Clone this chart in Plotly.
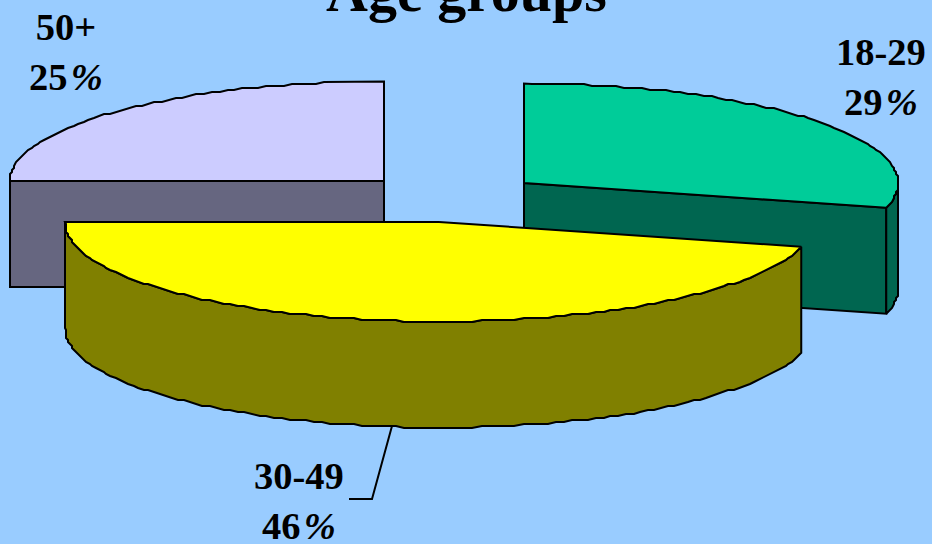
import math
import plotly.graph_objects as go

# Data
categories = ["18-29", "30-49", "50+"]
values = [29, 46, 25]
title_text = "Age groups"

# Style / layout
top_colors = ["#00CC99", "#FFFF00", "#CCCCFF"]
side_colors = ["#006650", "#808000", "#666680"]
apexes = [(524, 183), (439, 222), (384, 181)]   # exploded slice apex positions
draw_order = [2, 0, 1]
label_pos = [(880.5, 76.5), (298.5, 500.5), (65.5, 51.5)]
RX, RY, DEPTH = 374, 99.5, 106
BG = "#99CCFF"
FONT = "Liberation Serif"

def rim(apex, a0, a1):
    """Points along the rim between two clockwise angles from 12 o'clock."""
    n = max(2, int(abs(a1 - a0) / 1.3))
    pts = []
    for i in range(n + 1):
        a = math.radians(a0 + (a1 - a0) * i / n)
        x = apex[0] + RX * math.sin(a)
        y = apex[1] - RY * math.cos(a)
        if 0 < i < n:            # low-resolution stair-stepped outline of the original
            x, y = round(x / 2) * 2, round(y / 2) * 2
        pts.append((x, y))
    return pts

def poly(pts, color):
    return go.Scatter(x=[p[0] for p in pts] + [pts[0][0]],
                      y=[p[1] for p in pts] + [pts[0][1]],
                      mode="lines", fill="toself", fillcolor=color,
                      line=dict(color="black", width=2), hoverinfo="skip",
                      showlegend=False)

fig = go.Figure()
total = sum(values)
start = []
acc = 0
for v in values:
    start.append(acc)
    acc += v * 360 / total

for i in draw_order:
    a0 = start[i]
    a1 = a0 + values[i] * 360 / total
    ax, ay = apexes[i]
    down = lambda pts: [(x, y + DEPTH) for x, y in pts]
    # cut faces that look towards the viewer
    for ang, visible in ((a0, 180 < a0 < 360), (a1, 0 < a1 < 180)):
        if visible:
            edge = rim((ax, ay), ang, ang)[0]
            face = [(ax, ay), edge, (edge[0], edge[1] + DEPTH), (ax, ay + DEPTH)]
            fig.add_trace(poly(face, side_colors[i]))
    # outer wall on the front half
    lo, hi = max(a0, 90), min(a1, 270)
    if lo < hi:
        arc = rim((ax, ay), lo, hi)
        fig.add_trace(poly(arc + down(arc)[::-1], side_colors[i]))
    # top face
    arc = rim((ax, ay), a0, a1)
    fig.add_trace(poly([(ax, ay)] + arc, top_colors[i]))

# Leader line for the 30-49 label
fig.add_trace(go.Scatter(x=[392, 372, 349], y=[426, 499, 499], mode="lines",
                         line=dict(color="black", width=2), hoverinfo="skip",
                         showlegend=False))

for cat, v, (lx, ly) in zip(categories, values, label_pos):
    fig.add_annotation(x=lx, y=ly, xanchor="center", yanchor="middle", showarrow=False,
                       text=f"<b>{cat}<br>{v}\u200a<i>%</i></b>",
                       font=dict(family=FONT, size=38.5, color="black"))

fig.add_annotation(x=466, y=26, xanchor="center", yanchor="bottom", showarrow=False,
                   text=f"<b>{title_text}</b>", yshift=0,
                   font=dict(family=FONT, size=58, color="black"))

fig.update_layout(width=932, height=544, margin=dict(l=0, r=0, t=0, b=0),
                  paper_bgcolor=BG, plot_bgcolor=BG,
                  xaxis=dict(range=[0, 932], visible=False, fixedrange=True),
                  yaxis=dict(range=[544, 0], visible=False, fixedrange=True))
fig.write_html("out.html", config={"displayModeBar": False},
               post_script="document.body.style.margin='0';document.body.style.overflow='hidden';document.body.style.background='#99CCFF';window.dispatchEvent(new Event('resize'));")
